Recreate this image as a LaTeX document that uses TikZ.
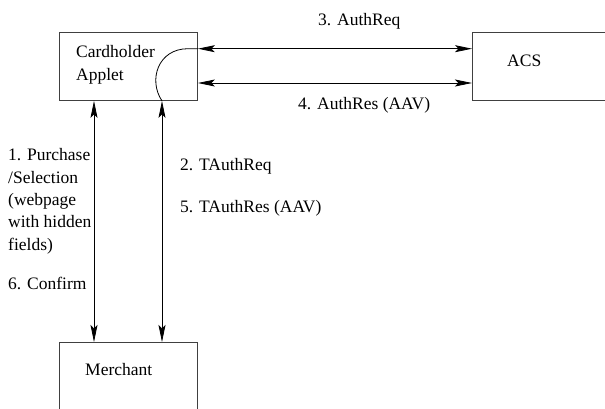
\documentclass[tikz,border=0pt]{standalone}
\usepackage{fontspec}
\setmainfont{Liberation Serif}
\usetikzlibrary{arrows.meta}
\begin{document}
\begin{tikzpicture}[x=1pt,y=-1pt,
  box/.style={draw=black!75, line width=0.9pt, minimum width=138pt, minimum height=68pt, inner sep=0pt, anchor=north west},
  lbl/.style={font=\fontsize{17.5}{22.3}\selectfont, inner sep=0pt, anchor=base west, align=left},
  tip/.tip={Stealth[length=17pt,width=7pt,inset=3.5pt]},
  conn/.style={line width=0.8pt, tip-tip},
  curve/.style={line width=0.8pt}]
\useasboundingbox (0,0) rectangle (605,408);
\begin{scope}
\clip (0,0) rectangle (605,408);
\node[box] (card) at (59,32) {};
\node[box] (acs) at (472,32) {};
\node[box] (merch) at (59,342) {};
\end{scope}
% multi-line nodes: base anchor is the baseline of the last line
\node[lbl] (cardtxt) at (76,80) {Cardholder\\Applet};
\node[lbl] (acstxt) at (507,66.7) {ACS};
\node[lbl] (merchtxt) at (85,375) {Merchant};
% horizontal connectors
\coordinate (h1) at (0,48.7);
\coordinate (h2) at (0,83);
\draw[conn] (card.east |- h1) -- (acs.west |- h1);
\draw[conn] (card.east |- h2) -- (acs.west |- h2);
% vertical connectors
\coordinate (v1) at (94,0);
\coordinate (v2) at (162,0);
\draw[conn] (card.south -| v1) -- (merch.north -| v1);
\draw[conn] (card.south -| v2) -- (merch.north -| v2);
% internal curve
\coordinate (cA) at (188,48.7);
\draw[curve] (card.east |- h1) -- (cA) .. controls (158,48.7) and (148,80) .. (card.south -| v2);
% labels
\node[lbl] (l3) at (318,25) {3. AuthReq};
\node[lbl] (l4) at (298,109) {4. AuthRes (AAV)};
\node[lbl] (l1) at (8,250) {1. Purchase\\/Selection\\(webpage\\with hidden\\fields)};
\node[lbl] (l6) at (8,289) {6. Confirm};
\node[lbl] (l2) at (180,170) {2. TAuthReq};
\node[lbl] (l5) at (180,212.7) {5. TAuthRes (AAV)};
\end{tikzpicture}
\end{document}
